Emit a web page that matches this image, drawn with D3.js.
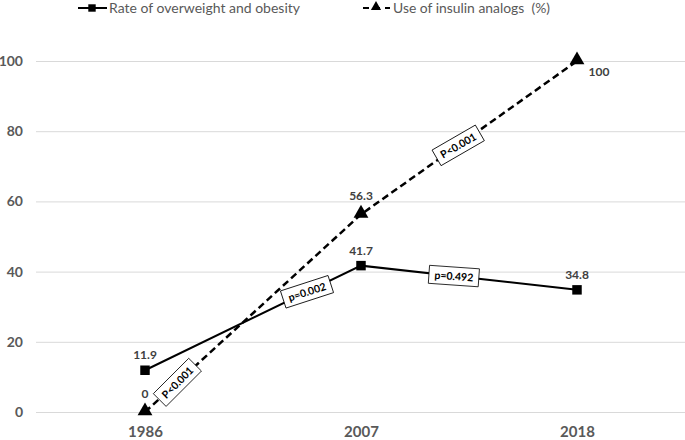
<!DOCTYPE html>
<html><head><meta charset="utf-8">
<script src="https://cdn.jsdelivr.net/npm/d3@7"></script>
<style>body{margin:0;background:#fff}svg{display:block}text{font-family:Lato,"Open Sans",sans-serif}</style>
</head><body><svg id="c" width="685" height="440"></svg>
<script>
const years = ["1986","2007","2018"];
const obesity = [11.9, 41.7, 34.8];
const insulin = [0, 56.3, 100];
const yTicks = [0,20,40,60,80,100];
const seriesNames = ["Rate of overweight and obesity","Use of insulin analogs  (%)"];
const pBoxes = [
  {series:"insulin", seg:0, label:"P<0.001", t:0.15, angle:-45},
  {series:"obesity", seg:0, label:"p=0.002", t:0.75, angle:-18},
  {series:"insulin", seg:1, label:"P<0.001", t:0.45, angle:-30},
  {series:"obesity", seg:1, label:"p=0.492", t:0.43, angle:4}
];

const svg = d3.select("#c");
const x = d3.scalePoint().domain(years).range([37,685]).padding(0.5);
const y = d3.scaleLinear().domain([0,100]).range([412,61]);

// gridlines + y axis
const yAxis = svg.append("g").attr("transform","translate(36,0)")
  .call(d3.axisLeft(y).tickValues(yTicks).tickSize(-649).tickPadding(13));
yAxis.select(".domain").remove();
yAxis.selectAll(".tick line").attr("stroke","#d9d9d9").attr("stroke-width",1);
yAxis.selectAll(".tick text").attr("fill","#595959").style("font-size","14px").style("font-weight","bold");

// x axis labels
const xAxis = svg.append("g").attr("transform","translate(0,412)")
  .call(d3.axisBottom(x).tickSize(0).tickPadding(14));
xAxis.select(".domain").remove();
xAxis.selectAll(".tick text").attr("fill","#595959").style("font-size","15px").style("font-weight","bold");

const ptsO = years.map((yr,i)=>[x(yr), y(obesity[i])]);
const ptsI = years.map((yr,i)=>[x(yr), y(insulin[i])]);
const line = d3.line();

svg.append("path").attr("d", line(ptsI)).attr("fill","none").attr("stroke","#000")
  .attr("stroke-width",2.5).attr("stroke-dasharray","7,4");
svg.append("path").attr("d", line(ptsO)).attr("fill","none").attr("stroke","#000")
  .attr("stroke-width",2);

const sq = d3.symbol().type(d3.symbolSquare).size(90);
const tri = d3.symbol().type(d3.symbolTriangle).size(95);
svg.selectAll(".mo").data(ptsO).join("path").attr("d",sq).attr("transform",d=>`translate(${d[0]},${d[1]})`).attr("fill","#000");
svg.selectAll(".mi").data(ptsI).join("path").attr("d",tri).attr("transform",d=>`translate(${d[0]},${d[1]-1})`).attr("fill","#000");

// data labels
const lblStyle = s => s.attr("fill","#404040").style("font-size","12px").style("font-weight","bold").attr("text-anchor","middle");
svg.selectAll(".lo").data(obesity).join("text").call(lblStyle)
  .attr("x",(d,i)=>x(years[i])).attr("y",(d,i)=>y(d)-11).text(d=>d);
svg.selectAll(".li").data(insulin).join("text").call(lblStyle)
  .attr("x",(d,i)=> i===2 ? x(years[i])+22 : x(years[i]))
  .attr("y",(d,i)=> i===2 ? y(d)+15 : y(d)-14).text(d=>d);

// p-value boxes
pBoxes.forEach(b=>{
  const pts = b.series==="insulin" ? ptsI : ptsO;
  const a = pts[b.seg], c = pts[b.seg+1];
  const cx = a[0]+(c[0]-a[0])*b.t, cy = a[1]+(c[1]-a[1])*b.t;
  const g = svg.append("g").attr("transform",`translate(${cx},${cy}) rotate(${b.angle})`);
  g.append("rect").attr("x",-25).attr("y",-9).attr("width",50).attr("height",18)
    .attr("fill","#fff").attr("stroke","#000").attr("stroke-width",0.8);
  g.append("text").attr("text-anchor","middle").attr("y",4).attr("fill","#000")
    .style("font-size","10.5px").style("font-weight","bold").text(b.label);
});

// legend
const lg = svg.append("g");
lg.append("line").attr("x1",78).attr("x2",107).attr("y1",8).attr("y2",8).attr("stroke","#000").attr("stroke-width",2);
lg.append("path").attr("d",d3.symbol().type(d3.symbolSquare).size(55)).attr("transform","translate(92,8)");
lg.append("text").attr("x",109).attr("y",13).attr("fill","#595959").style("font-size","13px")
  .attr("textLength",191).attr("lengthAdjust","spacingAndGlyphs").text(seriesNames[0]);
lg.append("line").attr("x1",363).attr("x2",390).attr("y1",8).attr("y2",8).attr("stroke","#000").attr("stroke-width",2).attr("stroke-dasharray","6,5");
lg.append("path").attr("d",d3.symbol().type(d3.symbolTriangle).size(45)).attr("transform","translate(376,7)");
lg.append("text").attr("x",393).attr("y",13).attr("fill","#595959").style("font-size","13px").style("white-space","pre")
  .attr("textLength",157).attr("lengthAdjust","spacingAndGlyphs").text(seriesNames[1]);
</script></body></html>
